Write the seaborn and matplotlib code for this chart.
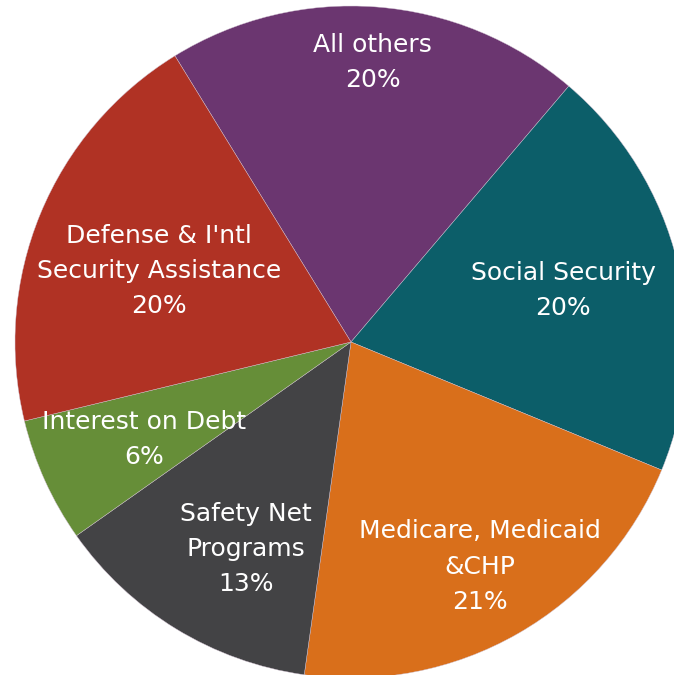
import matplotlib
matplotlib.use("Agg")
import matplotlib.pyplot as plt
import seaborn as sns
import numpy as np

# Federal spending shares, clockwise from the top
categories = ["All others", "Social Security", "Medicare, Medicaid\n&CHP",
              "Safety Net\nPrograms", "Interest on Debt",
              "Defense & I'ntl\nSecurity Assistance"]
shares = [20, 20, 21, 13, 6, 20]
slice_colors = ["#6B3670", "#0C5E69", "#D96F1B", "#434345", "#668E38", "#B03224"]

# label placement: fraction of the radius and a small clockwise nudge (deg)
label_radius = [0.835, 0.65, 0.77, 0.69, 0.68, 0.61]
label_nudge = [0.0, 0.0, 0.0, -4.4, -0.8, -2.2]

sns.set_theme(style="white")
plt.rcParams["font.family"] = ["DejaVu Sans"]

W, H, DPI = 674, 675, 100
fig = plt.figure(figsize=(W / DPI, H / DPI), dpi=DPI)
ax = fig.add_axes([0, 0, 1, 1])

palette = sns.color_palette(slice_colors)
wedges, _ = ax.pie(shares, colors=palette, startangle=121.6, counterclock=False,
                   radius=1.0, wedgeprops=dict(edgecolor="#d0c0d0", linewidth=0.3))

for w, name, val, rr, nd in zip(wedges, categories, shares, label_radius, label_nudge):
    mid = np.deg2rad((w.theta1 + w.theta2) / 2 - nd)
    ax.text(rr * np.cos(mid), rr * np.sin(mid), f"{name}\n{val}%",
            ha="center", va="center", color="white", fontsize=18,
            linespacing=1.58)

# pie centre sits at (351, 342) px with a 336 px radius; the right and
# bottom edges run past the canvas
r_px = 336.0
cx, cy = 351.0, 342.0
ax.set_xlim(-cx / r_px, (W - cx) / r_px)
ax.set_ylim(-(H - cy) / r_px, cy / r_px)
ax.set_aspect("auto")
ax.axis("off")

fig.savefig("out.png", dpi=DPI, facecolor="white")
